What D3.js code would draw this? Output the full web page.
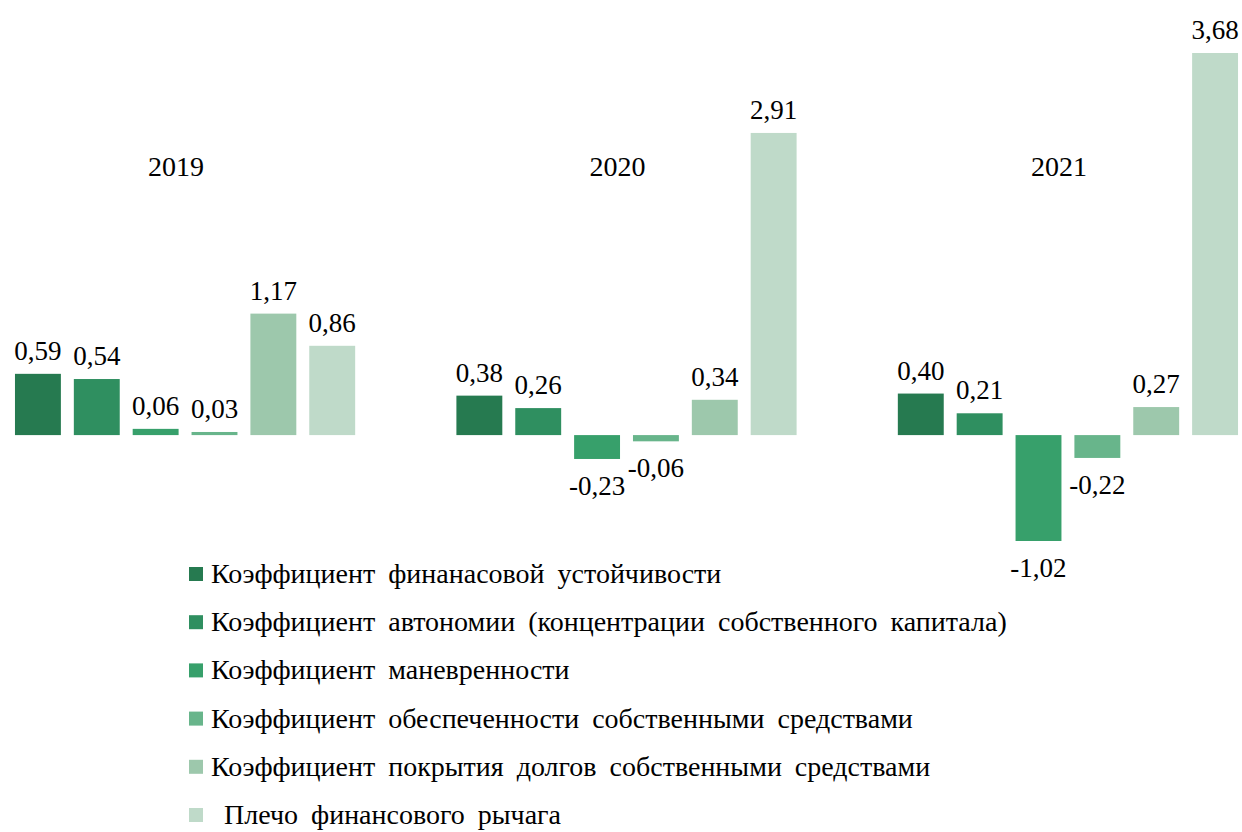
<!DOCTYPE html>
<html>
<head>
    <meta charset="UTF-8">
    <script src="https://cdn.jsdelivr.net/npm/d3@7"></script>
    <title>Коэффициенты</title>
    <style>
        body { margin: 0; background: #fff; }
    </style>
</head>
<body>
    <svg width="1242" height="832"></svg>
    <script>
        // годы
        const years = ['2019', '2020', '2021'];

        // названия коэффициентов
        const seriesNames = [
            'Коэффициент финанасовой устойчивости',
            'Коэффициент автономии (концентрации собственного капитала)',
            'Коэффициент маневренности',
            'Коэффициент обеспеченности собственными средствами',
            'Коэффициент покрытия долгов собственными средствами',
            ' Плечо финансового рычага'
        ];

        // значения по годам
        const v2019 = [0.59, 0.54, 0.06, 0.03, 1.17, 0.86];
        const v2020 = [0.38, 0.26, -0.23, -0.06, 0.34, 2.91];
        const v2021 = [0.40, 0.21, -1.02, -0.22, 0.27, 3.68];

        const colors = ['#267a50', '#2f8f60', '#37a06b', '#68b58b', '#9dc8ac', '#bfdac9'];

        const values = { '2019': v2019, '2020': v2020, '2021': v2021 };

        const font = "'Liberation Serif'";

        const svg = d3.select('svg');

        // внешний масштаб - годы
        const x0 = d3.scaleBand()
            .domain(years)
            .range([8.5, 1244.5])
            .paddingInner(0.2);

        // внутренний масштаб - коэффициенты
        const x1 = d3.scaleBand()
            .domain(d3.range(seriesNames.length))
            .range([0, x0.bandwidth()])
            .paddingInner(0.22)
            .paddingOuter(0.11);

        const y = d3.scaleLinear()
            .domain([-1.02, 3.68])
            .range([541, 53]);

        const fmt = d => d.toFixed(2).replace('.', ',');

        const groups = svg.selectAll('g.year')
            .data(years)
            .enter()
            .append('g')
            .attr('class', 'year')
            .attr('transform', d => `translate(${x0(d)},0)`);

        // подписи годов
        groups.append('text')
            .attr('x', x0.bandwidth() / 2 - 9)
            .attr('y', 176)
            .attr('text-anchor', 'middle')
            .attr('font-family', font)
            .attr('font-size', 28)
            .text(d => d);

        // столбцы
        groups.selectAll('rect')
            .data(d => values[d])
            .enter()
            .append('rect')
            .attr('x', (d, i) => x1(i))
            .attr('width', x1.bandwidth())
            .attr('y', d => y(Math.max(0, d)))
            .attr('height', d => Math.abs(y(d) - y(0)))
            .attr('fill', (d, i) => colors[i]);

        // подписи значений
        groups.selectAll('text.val')
            .data(d => values[d])
            .enter()
            .append('text')
            .attr('class', 'val')
            .attr('x', (d, i) => x1(i) + x1.bandwidth() / 2)
            .attr('y', d => d >= 0 ? y(d) - 14 : y(d) + 36)
            .attr('text-anchor', 'middle')
            .attr('font-family', font)
            .attr('font-size', 27)
            .text(d => fmt(d));

        // легенда
        const legend = svg.append('g')
            .selectAll('g')
            .data(seriesNames)
            .enter()
            .append('g')
            .attr('transform', (d, i) => `translate(189, ${583 + i * 48.2})`);

        legend.append('rect')
            .attr('x', 0)
            .attr('y', -16)
            .attr('width', 14)
            .attr('height', 14)
            .attr('fill', (d, i) => colors[i]);

        legend.append('text')
            .attr('x', 22)
            .attr('y', 0)
            .attr('font-family', font)
            .attr('font-size', 28)
            .attr('word-spacing', 6)
            .style('white-space', 'pre')
            .text(d => d);
    </script>
</body>
</html>
